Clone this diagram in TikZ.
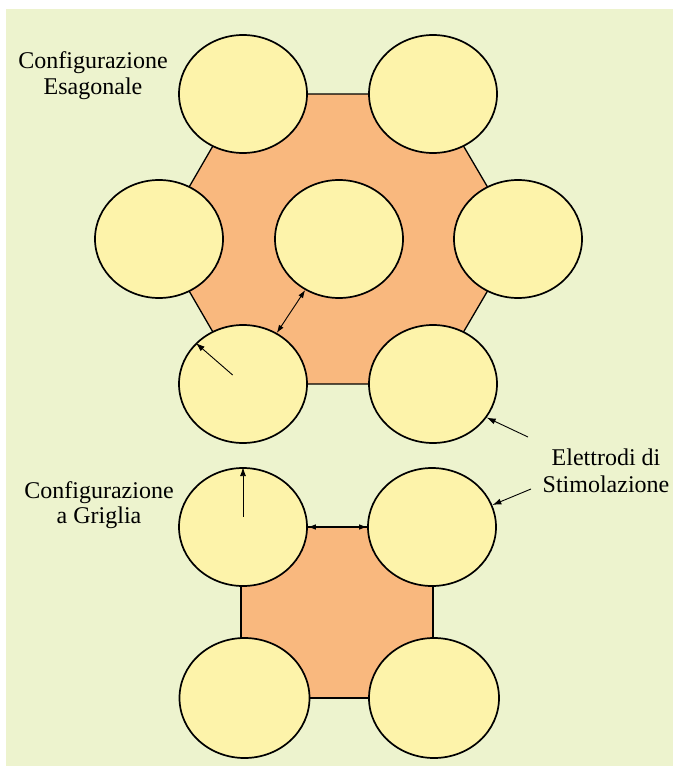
\documentclass[tikz,border=0pt]{standalone}
\usepackage{fontspec}
\setmainfont{Liberation Serif}
\usetikzlibrary{shapes.geometric,arrows.meta,calc}
\definecolor{bggreen}{RGB}{237,243,206}
\definecolor{plate}{RGB}{249,184,126}
\definecolor{electrode}{RGB}{253,243,170}
\tikzset{
  elec/.style={ellipse, draw=black, line width=1.7pt, fill=electrode, minimum width=128pt, minimum height=118pt, inner sep=0pt},
  plateedge/.style={draw=black, line width=1.3pt, fill=plate, line join=miter},
  lbl/.style={anchor=base, inner sep=0pt, font=\fontsize{24}{26}\selectfont},
  arr/.style={-{Latex[length=9pt,width=6pt]}, line width=0.9pt},
  darr/.style={{Latex[length=8pt,width=5.5pt]}-{Latex[length=8pt,width=5.5pt]}, line width=0.9pt}
}
\begin{document}
\begin{tikzpicture}[x=1pt,y=-1pt]
\useasboundingbox (0,0) rectangle (673,776);
\fill[bggreen] (6,9) rectangle (673,766);
% hexagonal configuration
\path[plateedge] (243,94) -- (433,94) -- (518,239) -- (433,384) -- (243,384) -- (159,239) -- cycle;
\node[elec] (htl) at (243,94) {};
\node[elec] (htr) at (433,94) {};
\node[elec] (hml) at (159,239) {};
\node[elec] (hm) at (339,239) {};
\node[elec] (hmr) at (518,239) {};
\node[elec] (hbl) at (243,384) {};
\node[elec] (hbr) at (433,384) {};
% grid configuration
\path[plateedge] (241,527) -- (433,527) -- (433,698) -- (241,698) -- cycle;
\node[elec] (gtl) at (243,527) {};
\node[elec] (gtr) at (432,527) {};
\node[elec, minimum width=130pt, minimum height=120pt] (gbl) at (244.5,698) {};
\node[elec, minimum width=130pt, minimum height=120pt] (gbr) at (434,698) {};
% dimension arrows
\draw[darr] (hm) -- (hbl);
\draw[arr] ($(hbl.center)!0.22!(hbl.139)$) -- (hbl.139);
\draw[arr] ($(gtl.center)!0.17!(gtl.north)$) -- (gtl.north);
\draw[darr] (gtl.east) -- (gtr.west);
% labels
\node[lbl] (esa1) at (93,68) {Configurazione};
\node[lbl] (esa2) at (93,94) {Esagonale};
\node[lbl] (gri1) at (99,498) {Configurazione};
\node[lbl] (gri2) at (99,523) {a Griglia};
\node[lbl] (ele1) at (606,465) {Elettrodi di};
\node[lbl] (ele2) at (606,492) {Stimolazione};
\coordinate (p1) at (528,437);
\coordinate (p2) at (531,489);
\draw[arr] (p1) -- (hbr.-32);
\draw[arr] (p2) -- (gtr.20);
\end{tikzpicture}
\end{document}
